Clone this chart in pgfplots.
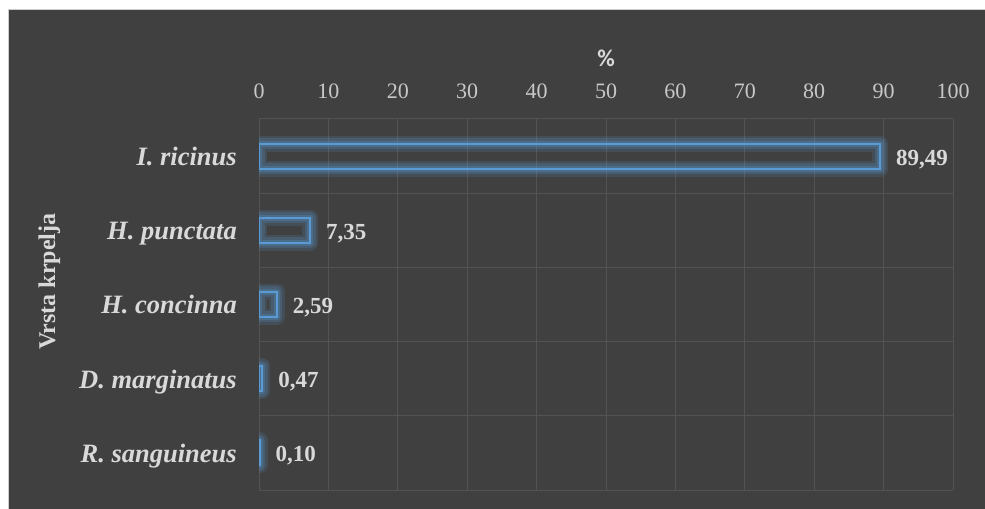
\documentclass[border=0pt]{standalone}
\usepackage{pgfplots}
\pgfplotsset{compat=1.18}
\usepackage{fontspec}
\setmainfont{Liberation Serif}
\newfontfamily\carlito{Carlito}
\definecolor{bg}{HTML}{404040}
\definecolor{txt}{HTML}{D9D9D9}
\definecolor{tickc}{HTML}{C8C8C8}
\definecolor{gridc}{HTML}{535353}
\definecolor{barc}{HTML}{5B9BD5}
\begin{document}
\begin{tikzpicture}[x=1bp,y=1bp]
\path[use as bounding box] (0,0) rectangle (985,509);
\fill[white] (0,0) rectangle (985,509);
\fill[bg] (9,0) rectangle (985,499);
\draw[black!20, line width=1bp] (8.5,0) -- (8.5,499.5) -- (985,499.5);
\begin{axis}[
  at={(259bp,19bp)}, anchor=south west,
  scale only axis, width=694bp, height=371bp,
  xbar,
  xmin=0, xmax=100, ymin=-0.5, ymax=4.5, y dir=reverse,
  xtick={0,10,...,100}, ytick={0,1,2,3,4},
  yticklabels={{I. ricinus},{H. punctata},{H. concinna},{D. marginatus},{R. sanguineus}},
  minor ytick={-0.5,0.5,1.5,2.5,3.5,4.5},
  xmajorgrids, yminorgrids,
  major grid style={gridc, line width=1bp},
  minor grid style={gridc, line width=1bp},
  axis line style={draw=none},
  major tick length=0pt, minor tick length=0pt,
  xticklabel pos=upper,
  /pgf/number format/assume math mode=true,
  xticklabel style={font=\fontsize{22bp}{26bp}\selectfont, text=tickc, anchor=base, inner sep=0pt, yshift=20bp},
  yticklabel style={font=\fontsize{26.5bp}{30bp}\selectfont\bfseries\itshape, text=txt, anchor=base east, inner sep=0pt, xshift=-22bp, yshift=-9.5bp},
  xlabel={\%},
  xlabel style={font=\carlito\bfseries\fontsize{24bp}{28bp}\selectfont, text=txt, at={(axis description cs:0.5,1.164)}, anchor=center},
  ylabel={Vrsta krpelja},
  ylabel style={font=\bfseries\fontsize{24bp}{28bp}\selectfont, text=txt, at={(axis description cs:-0.302,0.562)}, anchor=center},
]
\addplot[bar width=25bp, bar shift=0pt, draw=barc, draw opacity=0.16, line width=16bp, line join=round, fill=none, forget plot]
  coordinates {(89.49,0) (7.35,1) (2.59,2) (0.47,3) (0.10,4)};
\addplot[bar width=25bp, bar shift=0pt, draw=barc, draw opacity=0.2, line width=11bp, line join=round, fill=none, forget plot]
  coordinates {(89.49,0) (7.35,1) (2.59,2) (0.47,3) (0.10,4)};
\addplot[bar width=25bp, bar shift=0pt, draw=barc, draw opacity=0.26, line width=6bp, line join=round, fill=none, forget plot]
  coordinates {(89.49,0) (7.35,1) (2.59,2) (0.47,3) (0.10,4)};
\addplot[bar width=25bp, bar shift=0pt, draw=barc, line width=2bp, fill=none,
  nodes near coords={\pgfmathprintnumber[fixed,fixed zerofill,precision=2,use comma]{\pgfplotspointmeta}},
  nodes near coords style={font=\fontsize{23bp}{27bp}\selectfont\bfseries, text=txt, anchor=base west, inner sep=0pt, xshift=15bp, yshift=-9bp}]
  coordinates {(89.49,0) (7.35,1) (2.59,2) (0.47,3) (0.10,4)};
\end{axis}
\end{tikzpicture}
\end{document}
